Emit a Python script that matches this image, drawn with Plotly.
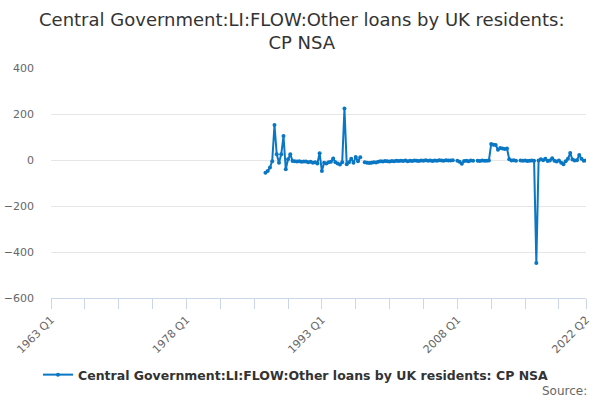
import plotly.graph_objects as go

# Categories: quarters 1963 Q1 .. 2022 Q2
quarters = [f"{y} Q{q}" for y in range(1963, 2023) for q in range(1, 5)][:238]

# Series values from 1986 Q4 onwards (None = missing)
start_label = "1986 Q4"
series_values = [
    -55, -48, -33, -5, 152, 25, -12, 25, 104, -40,
    3, 25, -4, -5, -6, -5, -8, -7, -6, -10,
    -8, -12, -10, -15, 29, -48, -12, -15, -10, -8,
    7, -10, -15, -20, -10, 224, -19, -10, 5, -12,
    13, -5, 12, None, -10, -12, -13, -12, -10, -11,
    -8, -5, -6, -4, -5, -7, -4, -5, -3, -4,
    -3, -4, -2, -5, -3, -4, -2, -3, -4, -2,
    -3, -1, -3, -2, -4, -2, -3, -1, -2, -3,
    -1, -2, -2, -1, None, -3, -8, -16, -4, -3,
    -5, -2, -3, None, -3, -4, -2, -3, -3, -2,
    70, 66, 65, 45, 52, 50, 48, 50, 3, -2,
    -1, -3, None, -2, -3, -2, -4, -3, -2, -3,
    -448, -2, 3, -1, 5, -4, -2, 8, -3, -6,
    -2, -12, -18, -5, 5, 30, 2, -2, -1, 22,
    5, -3, -2,
]
offset = quarters.index(start_label)
values = [None] * offset + series_values

series_name = "Central Government:LI:FLOW:Other loans by UK residents: CP NSA"
title_text = "Central Government:LI:FLOW:Other loans by UK residents:<br>CP NSA"

tick_positions = quarters[0:238:15] + [quarters[-1]]
labelled = {"1963 Q1", "1978 Q1", "1993 Q1", "2008 Q1", "2022 Q2"}
tick_text = [t if t in labelled else "" for t in tick_positions]

y_ticks = [-600, -400, -200, 0, 200, 400]

L, R, T, B = 51, 14, 68, 102
PW, PH = 600 - L - R, 400 - T - B

def px_x(x):
    return (x - L) / PW

def px_y(y):
    return (400 - B - y) / PH

color = "#0a77c4"
fig = go.Figure()
fig.add_trace(go.Scatter(
    x=quarters, y=values, mode="lines+markers", name=series_name,
    line=dict(color=color, width=2), marker=dict(color=color, size=4),
    connectgaps=False,
))

fig.update_layout(
    width=600, height=400,
    margin=dict(l=L, r=R, t=T, b=B, autoexpand=False),
    paper_bgcolor="white", plot_bgcolor="white",
    font=dict(family="DejaVu Sans", color="#666666"),
    showlegend=True,
    legend=dict(orientation="h", x=px_x(296), xref="paper", xanchor="center",
                y=px_y(375), yref="paper", yanchor="middle",
                font=dict(family="DejaVu Sans", size=12.5, color="#333333", weight="bold"),
                itemwidth=30),
    annotations=[
        dict(text=title_text, xref="paper", yref="paper",
             x=px_x(301), y=px_y(7), xanchor="center", yanchor="top",
             showarrow=False, align="center",
             font=dict(family="DejaVu Sans", size=18, color="#333333")),
        dict(text="Source:", xref="paper", yref="paper",
             x=px_x(589), y=px_y(391), xanchor="right", yanchor="middle",
             showarrow=False, font=dict(size=12, color="#666666")),
    ],
)
fig.update_xaxes(
    type="category", categoryorder="array", categoryarray=quarters,
    range=[0, len(quarters)-1],
    tickmode="array", tickvals=tick_positions, ticktext=tick_text,
    tickangle=-45, ticks="outside", ticklen=10, tickcolor="#ccd6eb", tickwidth=1,
    showline=True, linecolor="#ccd6eb", linewidth=1, showgrid=False,
    tickfont=dict(size=11, color="#666666"), zeroline=False,
)
fig.update_yaxes(
    range=[-600, 400], tickvals=y_ticks, showgrid=True, gridcolor="#e6e6e6",
    zeroline=False, showline=False, tickfont=dict(size=11, color="#666666"),
    ticks="", ticklabelstandoff=16,
)
fig.write_html(
    "out.html",
    config={"displayModeBar": False},
    post_script="document.body.style.margin='0';document.body.style.overflow='hidden';",
)
